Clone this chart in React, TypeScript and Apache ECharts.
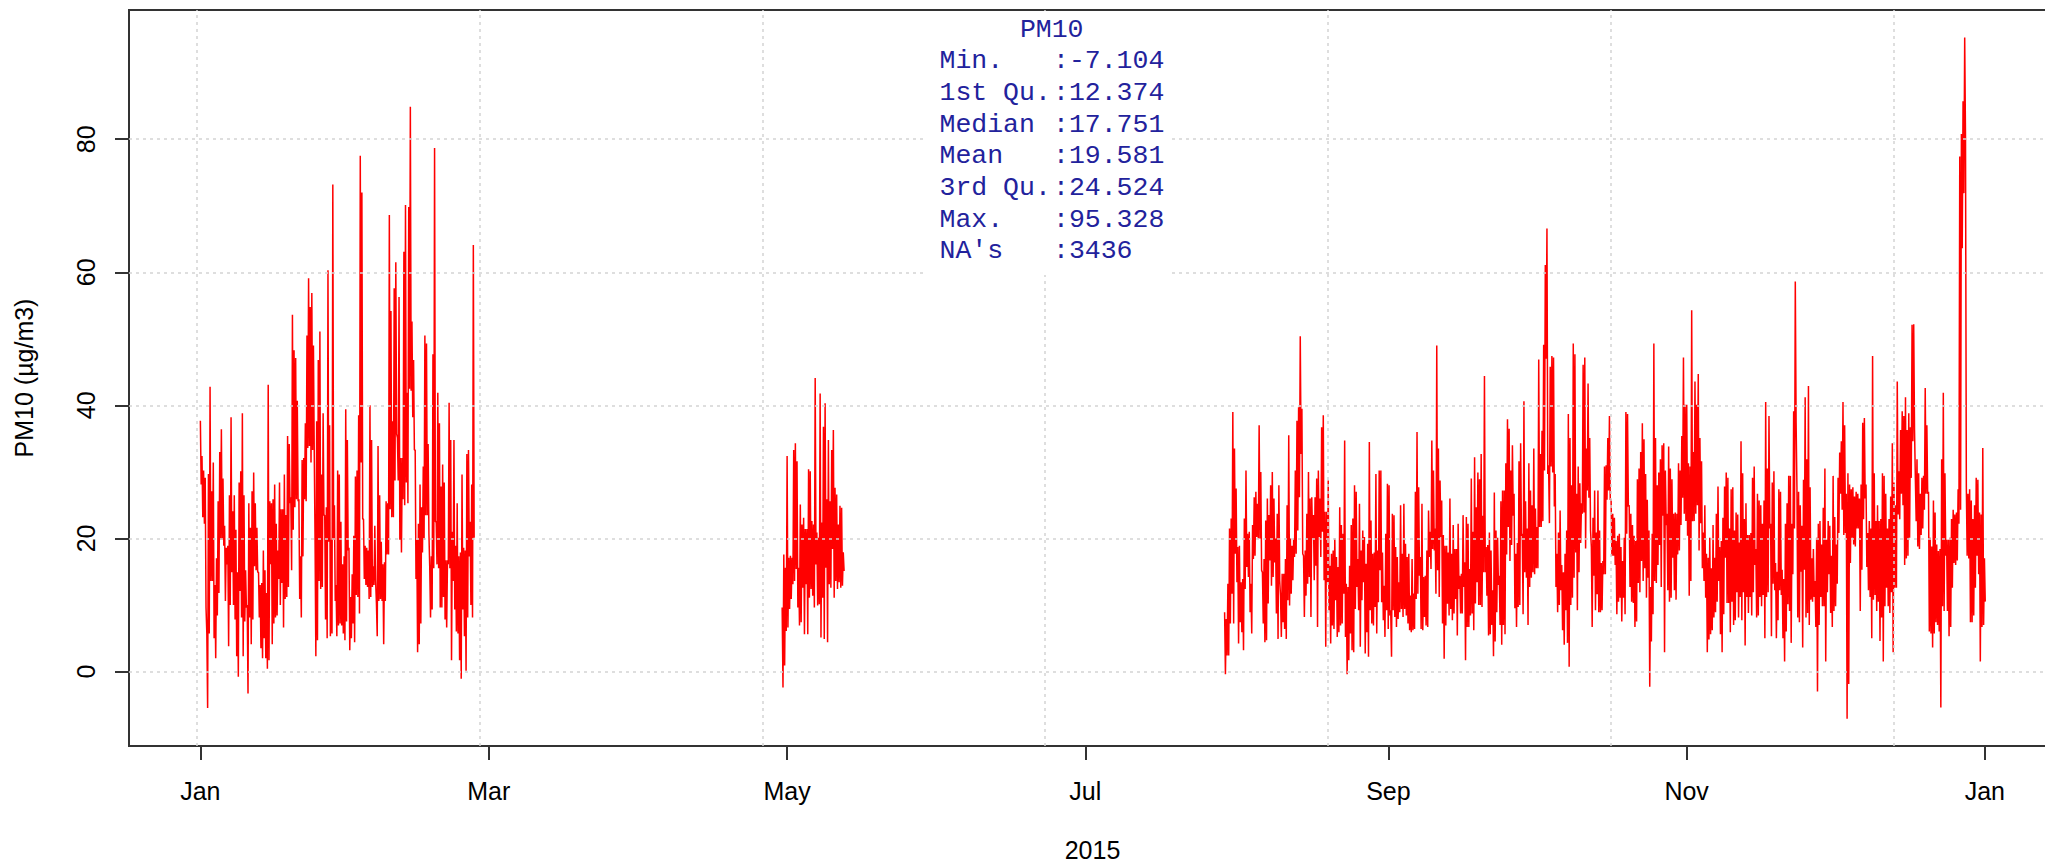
import React, { useEffect, useRef } from "react";
import * as echarts from "echarts";

// Hourly PM10 record for 2015, summarised as (high, low) pairs per ~8 h window.
// Three measured stretches; the gaps in between are missing values.
const seg1Start = "2015-01-01T00:00:00Z";
const seg1End = "2015-02-25T20:00:00Z";
const seg1High = [
  37.7, 32.4, 30.2, 29.1, 5.7, 29.7, 42.8, 27.1, 31.4, 13.0,
  17.0, 25.6, 33.0, 36.4, 29.0, 21.9, 18.6, 18.9, 26.5, 38.2,
  24.1, 26.5, 21.3, 14.9, 28.4, 30.1, 38.8, 26.5, 15.2, 10.0,
  25.3, 21.6, 27.1, 29.9, 25.3, 21.6, 14.9, 13.0, 13.3, 18.2,
  15.2, 11.8, 43.1, 25.6, 25.3, 25.9, 28.1, 22.2, 18.2, 28.4,
  24.4, 24.4, 29.6, 23.5, 35.4, 34.2, 26.2, 53.6, 48.3, 47.1,
  40.7, 25.9, 17.3, 31.8, 32.1, 37.3, 50.5, 59.1, 54.8, 56.9,
  49.0, 19.8, 37.6, 46.8, 51.1, 29.6, 38.8, 23.5, 24.7, 60.3,
  37.0, 19.8, 73.2, 25.0, 13.0, 30.2, 29.6,
  22.5, 16.1, 17.3, 39.4, 34.8, 18.6, 11.2, 14.6, 20.4, 29.3, 30.2, 38.5, 77.5,
  72.0, 22.9, 18.9, 18.6, 18.2, 40.0, 34.8, 15.8, 21.9, 10.3,
  33.9, 26.5, 19.5, 16.1, 16.4, 25.6, 25.3, 68.6, 54.2, 37.6,
  57.6, 61.5, 35.1, 56.3, 32.1, 32.1, 63.1, 70.1, 41.9, 69.8,
  84.9, 52.6, 46.8, 33.3, 19.8, 22.2, 28.1, 24.7, 30.8, 50.5,
  49.3, 34.2, 15.8, 17.3, 47.7, 78.7, 22.5, 41.9, 37.3, 27.8,
  31.1, 28.4, 16.7, 16.7, 40.4, 34.8, 21.0, 34.8, 18.9, 25.3,
  17.3, 17.9, 29.6, 18.6, 18.2, 32.7, 33.3, 22.5, 28.1, 64.1,
];
const seg1Low = [
  28.1, 23.2, 22.2, 9.6, -5.5, 5.7, 13.6, 13.6, 5.0, 2.0,
  8.4, 11.8, 19.8, 19.8, 18.9, 10.6, 16.1, 3.8, 10.0, 14.9,
  10.0, 7.8, 2.3, -0.8, 12.1, 8.1, 2.3, 7.5, 9.6, -3.3,
  8.1, 4.1, 7.8, 15.8, 15.2, 14.9, 8.1, 3.5, 2.0, 5.0,
  2.0, 0.4, 1.7, 16.1, 4.1, 7.2, 8.1, 8.4, 13.9, 10.0,
  13.3, 6.6, 10.9, 11.2, 12.7, 25.3, 15.2, 21.3, 24.7, 25.9,
  25.6, 10.9, 8.1, 17.3, 25.9, 25.6, 33.6, 33.9, 31.4, 33.3,
  33.3, 2.3, 4.7, 13.6, 12.4, 12.7, 23.5, 7.8, 5.0, 19.5,
  5.3, 5.7, 19.8, 10.6, 5.3, 6.9, 7.2,
  6.9, 5.7, 4.7, 7.5, 18.2, 3.2, 5.0, 7.2, 4.4, 11.5, 11.2, 8.7, 31.4,
  22.9, 13.9, 13.0, 12.7, 10.9, 11.2, 12.7, 13.0, 13.6, 5.3,
  10.6, 10.9, 10.6, 4.1, 10.6, 17.6, 17.6, 24.4, 23.2, 23.2,
  28.7, 35.7, 28.7, 19.8, 17.9, 25.9, 25.0, 28.4, 25.3, 42.5,
  42.2, 38.2, 33.3, 13.9, 2.9, 4.1, 7.2, 17.9, 19.8, 23.5,
  23.5, 20.7, 8.1, 9.3, 15.5, 22.5, 16.1, 15.5, 9.6, 9.6,
  11.2, 7.8, 6.6, 16.1, 15.5, 1.7, 13.6, 9.3, 6.0, 5.7,
  1.7, -1.1, 9.3, 5.3, 0.1, 8.1, 17.3, 10.0, 8.1, 20.1,
];

const seg2Start = "2015-04-30T00:00:00Z";
const seg2End = "2015-05-12T12:00:00Z";
const seg2High = [
  9.6, 17.6, 15.6, 32.4, 17.1, 17.4, 17.1, 33.3, 34.3, 31.6,
  15.6, 25.1, 22.1, 23.1, 21.4, 21.4, 30.4, 30.1, 22.6, 22.1,
  44.1, 20.9, 20.1, 41.8, 22.4, 36.8, 40.3, 25.9, 34.8, 25.6,
  33.3, 36.3, 27.6, 26.6, 22.1, 24.9, 24.6, 17.9,
];
const seg2Low = [
  -2.4, 0.9, 6.1, 6.6, 9.4, 10.9, 13.1, 13.6, 15.4, 9.6,
  6.9, 7.4, 12.6, 5.6, 13.1, 5.6, 11.1, 12.4, 11.4, 9.6,
  16.1, 9.9, 10.1, 5.1, 11.1, 4.9, 15.6, 4.4, 13.1, 12.6,
  18.4, 11.1, 13.6, 12.4, 13.4, 12.6, 12.9, 15.1,
];

const seg3Start = "2015-07-29T12:00:00Z";
const seg3End = "2015-12-31T22:00:00Z";
const seg3High = [
  // late July - mid September
  8.9, 7.9, 13.2, 21.5, 23.0, 39.0, 33.5, 27.5, 18.7, 18.9,
  13.4, 13.9, 23.0, 30.2, 20.7, 21.0, 13.2, 22.0, 26.2, 27.0,
  25.2, 37.0, 30.0, 14.9, 16.9, 22.7, 26.0, 23.5, 28.0, 30.0,
  26.0, 20.0, 23.7, 28.0, 11.4, 14.7, 14.7, 16.9, 25.0, 35.5,
  20.0, 18.9, 20.0, 30.2, 37.7, 39.7, 50.4, 39.5, 17.4, 18.2,
  23.7, 30.0, 26.0, 26.2, 23.5, 26.2, 29.0, 30.2, 26.0, 36.7,
  38.5, 24.0, 24.0, 28.7, 15.9, 17.7, 18.2, 20.0, 17.2, 15.7,
  24.7, 22.0, 20.7, 34.7, 13.2, 12.7, 15.9, 22.0, 23.0, 28.0,
  27.0, 16.9, 25.2, 18.2, 21.2, 20.2, 16.2, 19.2, 34.5, 22.7,
  17.7, 17.9, 29.7, 18.2, 30.2, 30.2, 17.9, 12.9, 20.7, 28.2,
  28.0, 9.2, 23.7, 23.5, 18.7, 17.2, 13.4, 25.0, 17.7, 25.2,
  19.2, 17.2, 17.7, 11.4, 16.9, 11.7, 27.0, 36.0, 27.7, 17.2,
  25.2, 14.2, 14.4, 18.2, 24.2, 21.0, 34.7, 30.2, 21.5, 49.0,
  33.5, 28.7, 25.7, 20.5, 18.9, 18.9, 17.9, 26.0, 17.7, 22.0,
  18.4, 18.4, 22.2, 14.4, 14.7, 23.5, 16.4, 23.2, 22.2, 15.4,
  29.0, 21.0, 32.2, 24.7,
  // mid September - early November
  29.9, 28.9, 32.7, 23.4, 44.4, 18.7, 19.0, 20.9, 18.2, 12.2,
  26.9, 21.2, 20.1, 14.4, 25.6, 27.2, 27.2, 31.3, 37.9, 36.5,
  30.2, 34.0, 26.7, 17.7, 19.3, 31.6, 34.3, 20.7, 40.6, 25.6,
  21.5, 31.3, 27.2, 25.0, 33.5, 24.5, 21.7, 46.9, 32.7, 36.2,
  49.1, 61.1, 66.6, 31.0, 45.8, 47.4, 47.2, 29.7, 17.7, 20.9,
  24.2, 16.0, 14.9, 17.7, 21.2, 38.7, 35.1, 28.0, 49.3, 47.7,
  26.7, 30.8, 28.3, 25.3, 46.1, 47.2, 33.5, 43.3, 35.1, 18.7,
  23.1, 27.2, 20.9, 27.2, 21.2, 16.3, 16.6, 30.8, 31.0, 35.1,
  38.4, 25.8, 23.7, 23.1, 19.6, 20.4, 20.7, 18.7, 16.6, 20.1,
  39.0, 38.7, 25.0, 23.7, 22.0, 20.4, 19.6, 28.9, 30.5, 33.0,
  37.3, 34.9, 29.7, 25.8, 21.2, 12.7, 20.7, 49.3, 35.1, 28.0,
  29.9, 31.9, 34.0, 34.3, 30.2, 23.7, 33.8, 30.5, 28.9, 23.7,
  23.9, 23.7, 31.3, 30.2, 35.4, 47.2, 40.1, 40.1, 31.3, 30.8,
  54.3, 33.0, 43.6, 40.1, 44.7, 35.1, 31.6, 20.9, 25.0, 17.7,
  17.1, 20.1, 15.5, 22.0, 17.1, 23.7, 27.8, 18.7, 19.6, 23.1,
  27.8, 29.9, 29.1, 21.5,
  // early November - end of December
  27.4, 27.7, 21.2, 23.9, 23.6, 19.4, 34.6, 29.8, 22.9, 25.3,
  20.5, 20.5, 20.8, 29.1, 30.8, 18.4, 26.7, 25.7, 25.0, 22.2,
  25.7, 40.5, 30.5, 38.4, 22.2, 28.4, 30.1, 16.3, 15.0, 27.4,
  27.0, 15.3, 13.9, 22.2, 25.3, 29.4, 29.4, 22.2, 39.1, 58.6,
  27.7, 27.0, 25.0, 21.9, 28.8, 41.2, 31.9, 42.9, 27.7, 17.0,
  18.4, 13.6, 20.1, 22.2, 22.6, 19.1, 24.6, 30.5, 19.8, 22.6,
  21.9, 17.4, 29.4, 23.2, 19.1, 29.1, 32.9, 34.6, 40.5, 37.0,
  26.7, 29.8, 28.1, 27.4, 27.7, 26.3, 27.0, 26.7, 26.0, 28.1,
  37.4, 38.1, 28.1, 20.8, 22.6, 21.5, 47.4, 29.8, 22.6, 25.0,
  22.6, 22.9, 29.8, 29.4, 26.7, 21.5, 22.9, 26.3, 34.3, 28.4,
  25.0, 43.6, 30.1, 36.3, 39.1, 38.4, 41.2, 36.3, 38.8, 36.7,
  52.1, 52.2, 29.1, 31.9, 29.8, 26.7, 29.1, 29.4, 42.6, 37.0,
  27.0, 20.1, 18.8, 25.7, 23.9, 19.1, 18.1, 18.4, 31.9, 41.9,
  29.8, 19.8, 19.8, 20.1, 22.9, 24.3, 23.6, 23.9, 27.4, 77.4,
  80.8, 85.7, 95.3, 27.7, 26.7, 27.4, 25.7, 22.9, 25.0, 29.1,
  28.8, 23.9, 23.6, 33.6, 17.0,
];
const seg3Low = [
  // late July - mid September
  -0.4, 2.4, 2.4, 7.2, 11.7, 7.2, 17.7, 13.4, 4.2, 7.4,
  5.9, 3.2, 12.4, 15.7, 14.2, 8.9, 5.7, 16.9, 17.4, 20.2,
  20.0, 20.0, 15.2, 7.2, 4.4, 4.7, 10.2, 16.7, 12.9, 14.2,
  16.4, 8.7, 4.9, 13.7, 5.2, 7.4, 6.4, 4.9, 10.7, 9.9,
  11.7, 13.7, 17.2, 17.7, 21.2, 26.2, 32.7, 17.7, 8.2, 11.4,
  13.2, 14.2, 8.2, 20.0, 13.7, 15.9, 6.7, 20.2, 17.2, 21.0,
  13.7, 3.7, 13.4, 9.2, 4.2, 6.9, 6.4, 10.7, 5.2, 5.9,
  6.9, 7.2, 11.7, 5.2, -0.4, 1.7, 5.7, 3.2, 2.9, 9.4,
  12.7, 9.2, 3.7, 10.7, 13.4, 2.7, 5.9, 2.2, 9.2, 7.2,
  6.9, 9.7, 5.7, 10.4, 15.2, 10.4, 7.7, 5.2, 9.2, 6.4,
  8.4, 2.2, 9.2, 8.2, 6.7, 7.9, 8.9, 9.4, 8.2, 9.4,
  8.4, 7.2, 6.2, 5.9, 6.2, 6.4, 10.9, 11.7, 14.4, 6.4,
  6.2, 8.2, 6.9, 6.7, 17.2, 15.4, 18.4, 18.2, 11.7, 15.2,
  11.2, 20.2, 7.2, 1.9, 6.9, 10.2, 8.4, 9.4, 7.7, 8.7,
  10.9, 5.4, 12.4, 8.7, 8.7, 12.7, 1.7, 6.7, 6.7, 8.4,
  8.7, 6.2, 10.2, 13.4,
  // mid September - early November
  10.0, 10.0, 9.7, 14.9, 14.9, 11.4, 5.4, 5.6, 7.0, 2.3,
  4.5, 8.9, 13.0, 7.0, 4.0, 7.0, 5.6, 17.6, 21.7, 16.6,
  19.0, 23.4, 9.5, 6.7, 9.7, 10.0, 20.4, 8.6, 14.9, 14.1,
  7.0, 12.7, 14.1, 14.9, 14.6, 15.5, 15.5, 21.7, 21.7, 22.6,
  30.2, 47.0, 29.7, 22.3, 30.8, 29.9, 24.8, 12.7, 8.9, 10.0,
  12.2, 6.2, 4.0, 9.2, 4.3, 0.7, 10.0, 11.1, 14.1, 17.9,
  9.2, 14.9, 19.3, 23.7, 23.9, 18.5, 27.2, 26.1, 21.2, 6.7,
  14.4, 9.2, 11.6, 8.9, 8.9, 9.2, 14.6, 14.6, 25.8, 27.2,
  25.8, 17.4, 17.4, 16.0, 8.6, 10.5, 11.1, 7.5, 11.1, 8.6,
  20.7, 24.8, 12.7, 10.5, 10.3, 6.7, 7.5, 13.3, 11.9, 16.6,
  13.6, 15.5, 11.1, 14.1, -2.3, 4.5, 8.6, 13.6, 13.3, 16.0,
  19.0, 12.7, 23.4, 2.9, 22.0, 12.2, 10.5, 11.1, 17.1, 12.2,
  10.8, 17.6, 18.2, 22.0, 26.1, 23.7, 22.6, 20.4, 11.4, 13.6,
  22.6, 22.6, 23.7, 25.0, 18.2, 22.3, 15.5, 13.6, 11.1, 2.9,
  4.8, 5.6, 6.2, 8.1, 8.9, 10.5, 13.6, 5.6, 2.9, 8.6,
  17.1, 10.3, 10.3, 5.9,
  // early November - end of December
  10.5, 7.0, 7.7, 11.9, 8.1, 11.2, 7.7, 11.9, 3.9, 11.2,
  8.8, 11.2, 8.4, 11.9, 16.0, 8.1, 8.4, 11.2, 9.8, 11.5,
  5.0, 11.2, 11.9, 21.5, 5.3, 13.2, 12.2, 5.0, 7.7, 12.2,
  11.5, 5.0, 1.5, 6.0, 10.1, 9.1, 4.3, 14.6, 21.5, 37.4,
  8.1, 7.4, 15.0, 3.6, 15.3, 8.1, 8.8, 7.0, 10.8, 10.5,
  11.2, 6.7, -3.0, 7.0, 11.2, 9.8, 9.8, 1.5, 11.9, 14.6,
  8.8, 6.7, 9.1, 9.8, 13.2, 20.8, 26.7, 24.3, 20.5, 20.8,
  -7.1, -1.9, 16.3, 20.1, 19.1, 18.8, 21.5, 21.5, 9.1, 15.3,
  22.9, 26.0, 15.7, 12.2, 11.2, 5.0, 10.8, 11.5, 9.1, 10.5,
  4.6, 8.1, 1.5, 9.8, 12.6, 9.8, 8.8, 11.9, 2.9, 12.6,
  12.6, 23.6, 22.9, 26.7, 25.0, 16.0, 17.0, 17.4, 20.1, 29.1,
  34.6, 36.3, 22.6, 18.8, 18.4, 20.5, 21.5, 24.3, 26.7, 26.7,
  6.0, 5.7, 3.6, 5.7, 7.4, 7.0, 6.0, -5.4, 9.8, 9.1,
  17.4, 9.1, 5.3, 6.7, 12.6, 16.3, 16.0, 16.7, 22.2, 24.3,
  63.6, 71.9, 80.1, 17.4, 17.0, 7.4, 7.4, 8.4, 12.6, 17.4,
  14.6, 1.5, 6.7, 7.0, 10.5,
];

// Summary statistics printed in the box at the top
const statsTitle = "PM10";
const statsNames = ["Min.", "1st Qu.", "Median", "Mean", "3rd Qu.", "Max.", "NA's"];
const statsValues = [":-7.104", ":12.374", ":17.751", ":19.581", ":24.524", ":95.328", ":3436"];
const dataMin = -7.104;
const dataMax = 95.328;

// Axes: time in days since 2015-01-01 00:00
const monthTickDays = [0, 59, 120, 181, 243, 304, 365];
const monthTickLabels = ["Jan", "Mar", "May", "Jul", "Sep", "Nov", "Jan"];
const yTickValues = [0, 20, 40, 60, 80];
// dotted guide lines (every 5e6 s on the time axis)
const xGridDays = [-0.81, 57.06, 114.93, 172.8, 230.67, 288.54, 346.41];
const yGridValues = [0, 20, 40, 60, 80];
const timeSpanDays = 364.958;
const xAxisTitle = "2015";
const yAxisTitle = "PM10 (µg/m3)";

const SANS = '"Liberation Sans", Arial, sans-serif';
const MONO = '"Liberation Mono", "Courier New", monospace';
const T0 = Date.parse("2015-01-01T00:00:00Z");
const dayOf = (s: string) => (Date.parse(s) - T0) / 86400000;

function buildPoints(start: string, end: string, highs: number[], lows: number[]) {
  const s = dayOf(start);
  const e = dayOf(end);
  const n = highs.length;
  const step = (e - s) / (n - 1);
  const pts: number[][] = [];
  for (let i = 0; i < n; i++) {
    const t = s + i * step;
    pts.push([t, highs[i]]);
    pts.push([t + step / 2, lows[i]]);
  }
  return pts;
}

function buildOption() {
  const yPad = (dataMax - dataMin) * 0.04;
  const xPad = timeSpanDays * 0.04;
  const lineStyle = { color: "#ff0000", width: 1.5 };
  const dataSeries = [
    buildPoints(seg1Start, seg1End, seg1High, seg1Low),
    buildPoints(seg2Start, seg2End, seg2High, seg2Low),
    buildPoints(seg3Start, seg3End, seg3High, seg3Low),
  ].map((pts, i) => ({
    type: "line",
    name: "PM10-" + i,
    data: pts,
    showSymbol: false,
    symbol: "none",
    lineStyle,
    z: 2,
    silent: true,
  }));

  const gridLineStyle = { color: "#d3d3d3", width: 1.5, type: [3, 4] };

  const legendLeft = 927;
  const legendTop = 11;
  const textX = 939.5;
  const valueX = 1053;
  const rowH = 31.7;
  const firstRowY = 61.2;
  const ink = "#22229c";
  const monoFont = `26.5px ${MONO}`;
  const graphicElems: any[] = [
    {
      type: "rect",
      z: 10,
      shape: { x: legendLeft, y: legendTop, width: 245, height: 264 },
      style: { fill: "#ffffff", stroke: null },
      silent: true,
    },
    {
      type: "text",
      z: 11,
      style: {
        text: statsTitle,
        x: 1051.7,
        y: 29.5,
        font: monoFont,
        fill: ink,
        textAlign: "center",
        textVerticalAlign: "middle",
      },
    },
  ];
  statsNames.forEach((nm, i) => {
    const y = firstRowY + i * rowH;
    graphicElems.push({
      type: "text",
      z: 11,
      style: { text: nm, x: textX, y, font: monoFont, fill: ink, textAlign: "left", textVerticalAlign: "middle" },
    });
    graphicElems.push({
      type: "text",
      z: 11,
      style: { text: statsValues[i], x: valueX, y, font: monoFont, fill: ink, textAlign: "left", textVerticalAlign: "middle" },
    });
  });

  return {
    animation: false,
    backgroundColor: "#ffffff",
    grid: {
      left: 129,
      top: 10,
      right: -11,
      bottom: 117,
      show: true,
      borderColor: "#333333",
      borderWidth: 2,
      backgroundColor: "transparent",
      containLabel: false,
      outerBoundsMode: "none",
    },
    xAxis: {
      type: "value",
      min: -xPad,
      max: timeSpanDays + xPad,
      axisLine: { show: false, onZero: false },
      splitLine: { show: false },
      axisTick: { show: true, length: 14, lineStyle: { color: "#333333", width: 2 }, customValues: monthTickDays },
      axisLabel: {
        customValues: monthTickDays,
        formatter: (v: number) => {
          const idx = monthTickDays.findIndex((d) => Math.abs(d - v) < 0.01);
          return idx >= 0 ? monthTickLabels[idx] : "";
        },
        margin: 32,
        fontSize: 25,
        color: "#000000",
        fontFamily: SANS,
      },
      name: xAxisTitle,
      nameLocation: "middle",
      nameGap: 91,
      nameTextStyle: { fontSize: 25, color: "#000000", fontFamily: SANS },
    },
    yAxis: {
      type: "value",
      min: dataMin - yPad,
      max: dataMax + yPad,
      axisLine: { show: false, onZero: false },
      splitLine: { show: false },
      axisTick: { show: true, length: 14, lineStyle: { color: "#333333", width: 2 }, customValues: yTickValues },
      axisLabel: {
        customValues: yTickValues,
        rotate: 90,
        margin: 31,
        fontSize: 25,
        color: "#000000",
        fontFamily: SANS,
      },
      name: yAxisTitle,
      nameLocation: "middle",
      nameGap: 93,
      nameTextStyle: { fontSize: 25, color: "#000000", fontFamily: SANS },
    },
    series: [
      ...dataSeries,
      {
        type: "line",
        name: "guides",
        data: [],
        silent: true,
        z: 3,
        markLine: {
          silent: true,
          symbol: ["none", "none"],
          label: { show: false },
          lineStyle: gridLineStyle,
          emphasis: { disabled: true },
          data: [
            ...xGridDays.map((d) => ({ xAxis: d })),
            ...yGridValues.map((v) => ({ yAxis: v })),
          ],
        },
      },
    ],
    graphic: { elements: graphicElems },
  };
}

export default function App() {
  const ref = useRef<HTMLDivElement>(null);
  useEffect(() => {
    if (!ref.current) return;
    const chart = echarts.init(ref.current, null, { renderer: "svg" });
    chart.setOption(buildOption() as any);
    return () => chart.dispose();
  }, []);
  return (
    <div
      ref={ref}
      style={{ position: "absolute", left: 0, top: 0, width: 2045, height: 863, background: "#fff" }}
    />
  );
}
